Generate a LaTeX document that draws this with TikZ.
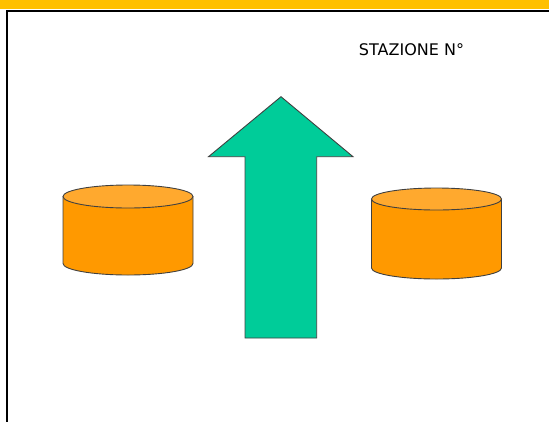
\documentclass[tikz,border=0pt]{standalone}
\usepackage{fontspec}
\setmainfont{DejaVu Sans}
\definecolor{bandyellow}{HTML}{FFC000}
\definecolor{cylbody}{HTML}{FF9900}
\definecolor{cyltop}{HTML}{FFA92E}
\definecolor{arrowgreen}{HTML}{00CC99}
\tikzset{
  cylside/.style={fill=cylbody, draw=black!75, line width=0.9pt},
  cyltopface/.style={fill=cyltop, draw=black!75, line width=0.9pt},
  bigarrow/.style={fill=arrowgreen, draw=black!75, line width=0.9pt, line join=miter},
  label/.style={font=\fontsize{16}{18}\selectfont, inner sep=0pt}
}
\begin{document}
\begin{tikzpicture}[x=1pt,y=-1pt]
\useasboundingbox (0,0) rectangle (549,421);
% top band
\fill[bandyellow] (0,0) rectangle (549,8.7);
% frame
\draw[line width=2.2pt] (7,430) -- (7,11) -- (560,11);
% text
\node[label] (title) at (411.5,50) {STAZIONE N°};
% left cylinder
\draw[cylside] (63,196.5) -- (63,263.5) arc[start angle=180,end angle=360,x radius=65,y radius=-11.5] -- (193,196.5);
\draw[cyltopface] (128,196.5) ellipse[x radius=65,y radius=11.5];
% right cylinder
\draw[cylside] (371.5,199) -- (371.5,268) arc[start angle=180,end angle=360,x radius=65,y radius=-11] -- (501.5,199);
\draw[cyltopface] (436.5,199) ellipse[x radius=65,y radius=11];
% arrow
\draw[bigarrow] (281,96.7) -- (353,156.7) -- (316.7,156.7) -- (316.7,338) -- (245,338) -- (245,156.7) -- (208.5,156.7) -- cycle;
\end{tikzpicture}
\end{document}
